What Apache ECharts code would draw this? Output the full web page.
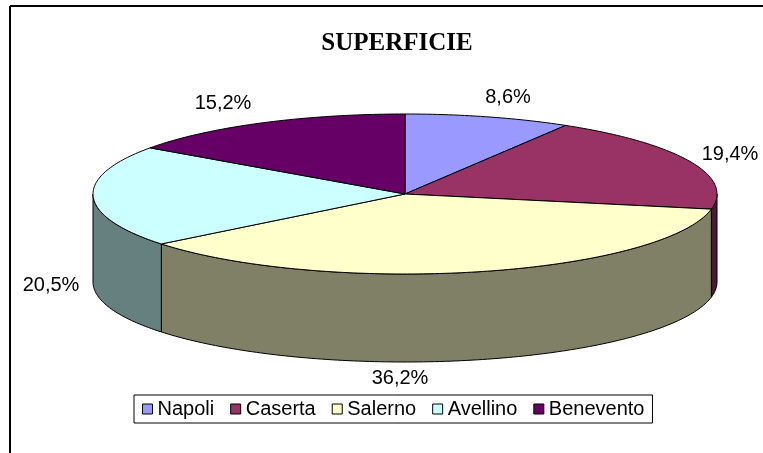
<!DOCTYPE html>
<html lang="it">
<head>
    <meta charset="UTF-8">
    <title>Superficie</title>
    <script src="https://cdn.jsdelivr.net/npm/echarts@6/dist/echarts.min.js"></script>
    <style>
        html, body { margin: 0; padding: 0; background: #fff; }
        #chart { width: 763px; height: 453px; }
    </style>
</head>
<body>
    <div id="chart"></div>
    <script>
        // dati
        const categories = ['Napoli', 'Caserta', 'Salerno', 'Avellino', 'Benevento'];
        const values = [8.6, 19.4, 36.2, 20.5, 15.2];
        const percentLabels = ['8,6%', '19,4%', '36,2%', '20,5%', '15,2%'];

        const topColors = ['#9999FF', '#993366', '#FFFFCC', '#CCFFFF', '#660066'];
        const sideColors = ['#4C4C80', '#4C1933', '#808066', '#668080', '#330033'];

        // torta "3D" finta: ellisse + spessore
        const cx = 405, cy = 194, rx = 312, ry = 80, depth = 88;
        // posizione delle etichette rispetto al centro
        const labelPos = [[103, -97], [325, -40], [-5, 184], [-354, 91], [-182, -91]];

        const total = values.reduce((a, b) => a + b, 0);
        const starts = [];
        let acc = 0;
        values.forEach(v => { starts.push(acc / total * 360); acc += v; });

        function pt(deg, dy) {
            const r = deg * Math.PI / 180;
            return [cx + rx * Math.sin(r), cy - ry * Math.cos(r) + (dy || 0)];
        }

        function arc(a0, a1, dy) {
            const pts = [];
            const n = Math.max(2, Math.ceil(Math.abs(a1 - a0)));
            for (let k = 0; k <= n; k++) pts.push(pt(a0 + (a1 - a0) * k / n, dy));
            return pts;
        }

        function renderSlice(params, api) {
            const i = params.seriesIndex;
            const a0 = starts[i];
            const a1 = a0 + api.value(0) / total * 360;
            const children = [];

            // parete frontale (solo la parte tra 90 e 270 gradi)
            const b0 = Math.max(a0, 90), b1 = Math.min(a1, 270);
            if (b1 > b0) {
                const pts = arc(b0, b1, 0).concat(arc(b1, b0, depth));
                children.push({
                    type: 'polygon',
                    shape: { points: pts },
                    style: { fill: sideColors[i], stroke: '#000', lineWidth: 1 }
                });
            }

            // faccia superiore
            children.push({
                type: 'polygon',
                shape: { points: [[cx, cy]].concat(arc(a0, a1, 0)) },
                style: { fill: topColors[i], stroke: '#000', lineWidth: 1 }
            });

            children.push({
                type: 'text',
                x: cx + labelPos[i][0],
                y: cy + labelPos[i][1],
                style: {
                    text: percentLabels[i],
                    fill: '#000',
                    font: '20px "Liberation Sans", Arial, sans-serif',
                    align: 'center',
                    verticalAlign: 'middle'
                }
            });

            return { type: 'group', children: children };
        }

        const chart = echarts.init(document.getElementById('chart'));
        const option = {
            animation: false,
            title: {
                text: 'SUPERFICIE',
                left: 392,
                textAlign: 'center',
                top: 26,
                textStyle: {
                    fontFamily: '"Liberation Serif", "Times New Roman", serif',
                    fontWeight: 'bold',
                    fontSize: 25,
                    color: '#000'
                }
            },
            legend: {
                data: categories,
                left: 134,
                top: 395,
                icon: 'rect',
                itemWidth: 10,
                itemHeight: 10,
                itemGap: 16,
                padding: [4, 8],
                borderColor: '#000',
                borderWidth: 1,
                itemStyle: { borderColor: '#000', borderWidth: 1 },
                textStyle: {
                    fontFamily: '"Liberation Sans", Arial, sans-serif',
                    fontSize: 20,
                    color: '#000'
                },
                selectedMode: false
            },
            graphic: [
                { type: 'line', shape: { x1: 10, y1: 6, x2: 763, y2: 6 }, style: { stroke: '#000', lineWidth: 2 } },
                { type: 'line', shape: { x1: 10, y1: 6, x2: 10, y2: 453 }, style: { stroke: '#000', lineWidth: 2 } }
            ],
            series: categories.map((name, i) => ({
                name: name,
                type: 'custom',
                coordinateSystem: 'none',
                silent: true,
                itemStyle: { color: topColors[i] },
                renderItem: renderSlice,
                data: [values[i]]
            }))
        };
        chart.setOption(option);
    </script>
</body>
</html>
